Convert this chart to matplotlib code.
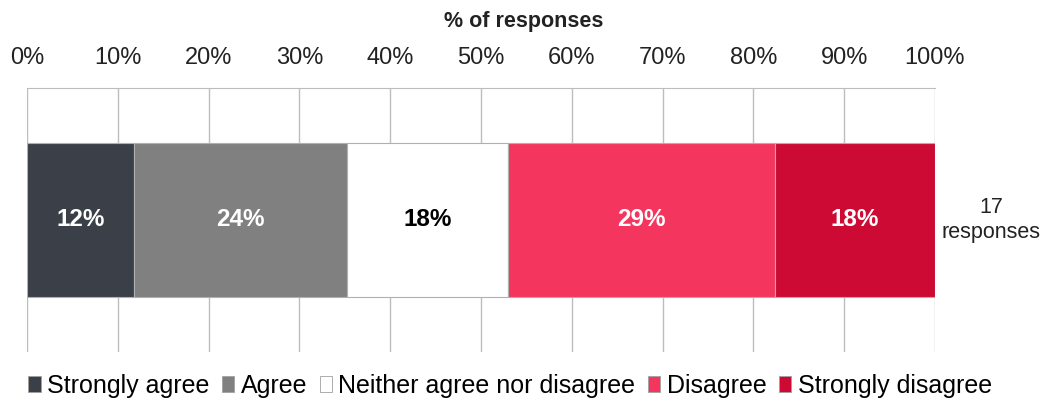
import matplotlib.pyplot as plt
from matplotlib.patches import Patch

plt.rcParams['font.family'] = ['Liberation Sans', 'DejaVu Sans']

categories = ['Strongly agree', 'Agree', 'Neither agree nor disagree', 'Disagree', 'Strongly disagree']
counts = [2, 4, 3, 5, 3]
total = sum(counts)
shares = [c / total * 100 for c in counts]
colors = ['#3B4048', '#808080', '#FFFFFF', '#F4365E', '#CC0A33']
text_colors = ['white', 'white', 'black', 'white', 'white']
ticks = list(range(0, 101, 10))

fig = plt.figure(figsize=(10.43, 4.03), dpi=100)
ax = fig.add_axes([27 / 1043, 1 - 352 / 403, 908 / 1043, 264 / 403])

left = 0
for share, col, tc in zip(shares, colors, text_colors):
    ax.barh(0, share, left=left, height=0.58, color=col, edgecolor='#B0B0B0', linewidth=0.8, zorder=3)
    ax.text(left + share / 2, 0, '{:.0f}%'.format(share), ha='center', va='center',
            fontsize=17.5, fontweight='bold', color=tc, zorder=4)
    left += share

ax.set_xlim(0, 100)
ax.set_ylim(-0.5, 0.5)
ax.set_xticks(ticks)
ax.set_xticklabels(['{}%'.format(t) for t in ticks], fontsize=17, color='#222222')
ax.xaxis.tick_top()
ax.tick_params(axis='x', length=0, pad=14)
ax.set_yticks([])
ax.grid(axis='x', color='#BDBDBD', linewidth=1, zorder=0)
for s in ['left', 'right', 'bottom']:
    ax.spines[s].set_visible(False)
ax.spines['top'].set_color('#BDBDBD')

# axis title sits a bit right of centre in the original
fig.text(524 / 1043, 1 - 21 / 403, '% of responses', ha='center', va='center',
         fontsize=15.5, fontweight='bold', color='#222222')

# count of responses to the right of the bar
ax.text(106.2, 0, '{}\nresponses'.format(total), ha='center', va='center', fontsize=15.5,
        color='#222222', linespacing=1.2, clip_on=False)

handles = [Patch(facecolor=c, edgecolor='#A0A0A0', linewidth=0.6) for c in colors]
fig.legend(handles, categories, loc='center', bbox_to_anchor=(0.489, 1 - 386 / 403), ncol=5,
           frameon=False, fontsize=18, handlelength=0.5, handleheight=0.6,
           handletextpad=0.25, columnspacing=0.5, borderaxespad=0)

fig.savefig('out.png', dpi=100)
